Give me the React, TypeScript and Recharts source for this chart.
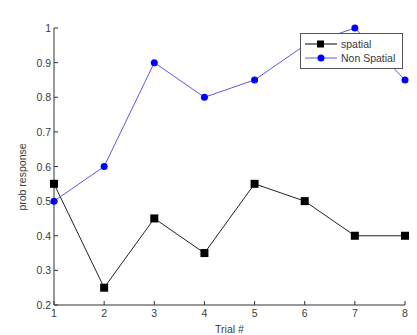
import { LineChart, Line, XAxis, YAxis, Legend, Label } from "recharts";

const trials = [1, 2, 3, 4, 5, 6, 7, 8];
const spatial = [0.55, 0.25, 0.45, 0.35, 0.55, 0.5, 0.4, 0.4];
const nonSpatial = [0.5, 0.6, 0.9, 0.8, 0.85, 0.95, 1, 0.85];
const yTicks = [0.2, 0.3, 0.4, 0.5, 0.6, 0.7, 0.8, 0.9, 1];

const data = trials.map((t, i) => ({
  trial: t,
  spatial: spatial[i],
  nonSpatial: nonSpatial[i],
}));

const FONT = '"Liberation Sans", Arial, sans-serif';
const TEXT = "#3a3a3a";
const AXIS = "#333";
const fmtY = (v: number) => (v === 1 ? "1" : v.toFixed(1));

const BottomTick = (p: any) => (
  <g>
    <line x1={p.x} y1={p.y} x2={p.x} y2={p.y - 4} stroke={AXIS} />
    <text x={p.x} y={p.y + 12} textAnchor="middle" fontSize={10.5} fontFamily={FONT} fill={TEXT}>
      {p.payload.value}
    </text>
  </g>
);

const TopTick = (p: any) => (
  <line x1={p.x} y1={p.y} x2={p.x} y2={p.y + 4} stroke={AXIS} />
);

const LeftTick = (p: any) => (
  <g>
    <line x1={p.x} y1={p.y} x2={p.x + 4} y2={p.y} stroke={AXIS} />
    <text x={p.x - 3} y={p.y + 4} textAnchor="end" fontSize={10.5} fontFamily={FONT} fill={TEXT}>
      {fmtY(p.payload.value)}
    </text>
  </g>
);

const RightTick = (p: any) => (
  <line x1={p.x} y1={p.y} x2={p.x - 4} y2={p.y} stroke={AXIS} />
);

const SquareDot = (p: any) => (
  <rect key={`sq-${p.index}`} x={p.cx - 4} y={p.cy - 4} width={8} height={8} fill="#000" />
);

const LegendBox = () => (
  <div
    style={{
      border: "1px solid #555",
      background: "#fff",
      padding: "3px 7px 3px 4px",
      fontFamily: FONT,
      fontSize: 10.5,
      color: TEXT,
      lineHeight: "14px",
    }}
  >
    <div style={{ display: "flex", alignItems: "center" }}>
      <svg width={32} height={10}>
        <line x1={0} y1={5} x2={32} y2={5} stroke="#000" />
        <rect x={12} y={1.5} width={7} height={7} fill="#000" />
      </svg>
      <span style={{ marginLeft: 4 }}>spatial</span>
    </div>
    <div style={{ display: "flex", alignItems: "center" }}>
      <svg width={32} height={10}>
        <line x1={0} y1={5} x2={32} y2={5} stroke="#5a5ae0" />
        <circle cx={16} cy={5} r={3.5} fill="#0000ff" />
      </svg>
      <span style={{ marginLeft: 4 }}>Non Spatial</span>
    </div>
  </div>
);

export default function App() {
  return (
    <div style={{ position: "absolute", left: 0, top: 0, width: 417, height: 335, background: "#fff" }}>
      <LineChart width={417} height={335} data={data} margin={{ top: 28, right: 12, bottom: 0, left: 0 }}>
        <XAxis
          dataKey="trial"
          type="number"
          domain={[1, 8]}
          ticks={trials}
          height={30}
          tickSize={0}
          tickMargin={0}
          tick={BottomTick}
          axisLine={{ stroke: AXIS }}
          tickLine={false}
        >
          <Label value="Trial #" position="insideBottom" offset={2} fontSize={10.5} fontFamily={FONT} fill={TEXT} />
        </XAxis>
        <XAxis
          xAxisId="top"
          orientation="top"
          dataKey="trial"
          type="number"
          domain={[1, 8]}
          ticks={trials}
          height={0}
          tickSize={0}
          tickMargin={0}
          tick={TopTick}
          axisLine={{ stroke: AXIS }}
          tickLine={false}
        >
          <Label value="Spatial/Non Spatial" position="top" offset={9} fontSize={10.5} fontFamily={FONT} fill={TEXT} />
        </XAxis>
        <YAxis
          type="number"
          domain={[0.2, 1]}
          ticks={yTicks}
          width={54}
          tickSize={0}
          tickMargin={0}
          tick={LeftTick}
          axisLine={{ stroke: AXIS }}
          tickLine={false}
          label={{
            content: () => (
              <text
                x={23}
                y={177}
                transform="rotate(-90, 23, 177)"
                textAnchor="middle"
                dominantBaseline="middle"
                fontSize={10.5}
                fontFamily={FONT}
                fill={TEXT}
              >
                prob response
              </text>
            ),
          }}
        />
        <YAxis
          yAxisId="right"
          orientation="right"
          type="number"
          domain={[0.2, 1]}
          ticks={yTicks}
          width={0}
          tickSize={0}
          tickMargin={0}
          tick={RightTick}
          axisLine={{ stroke: AXIS }}
          tickLine={false}
        />
        <Line
          dataKey="spatial"
          stroke="#222"
          strokeWidth={1}
          dot={SquareDot}
          activeDot={false}
          isAnimationActive={false}
        />
        <Line
          dataKey="nonSpatial"
          stroke="#5a5ae0"
          strokeWidth={1}
          dot={{ r: 3.5, fill: "#0000ff", stroke: "#0000ff", strokeWidth: 0 }}
          activeDot={false}
          isAnimationActive={false}
        />
        <Legend
          layout="vertical"
          align="center"
          verticalAlign="middle"
          content={LegendBox}
          wrapperStyle={{ position: "absolute", top: 33, left: 300, width: "auto" }}
        />
      </LineChart>
    </div>
  );
}
